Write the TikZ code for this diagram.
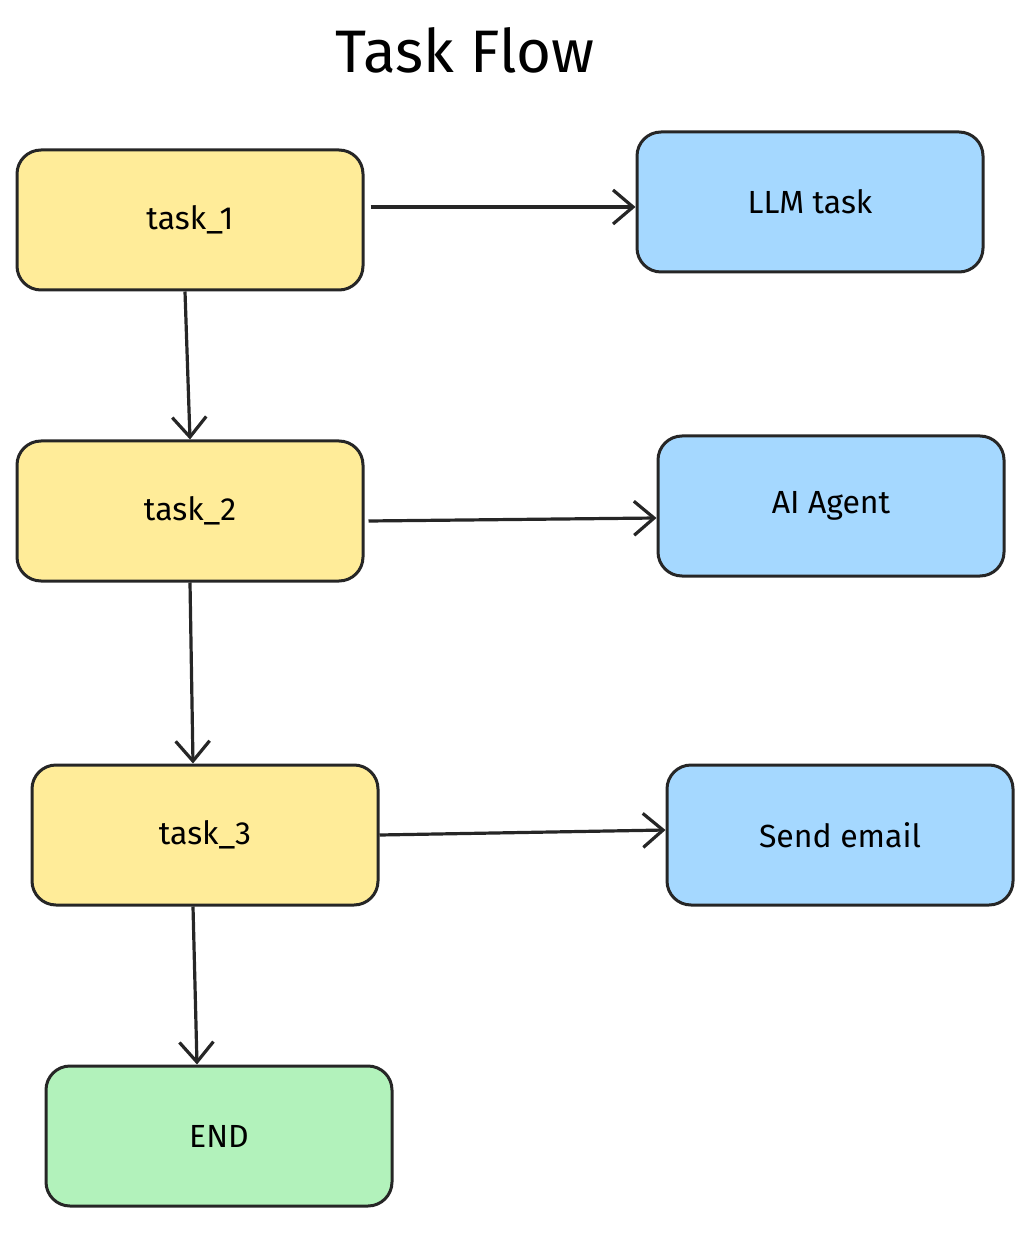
\documentclass[tikz,border=0pt]{standalone}
\usepackage{fontspec}
\setmainfont{Fira Sans}
\usetikzlibrary{arrows.meta}
\usetikzlibrary{positioning}
\definecolor{taskyellow}{HTML}{FFEC99}
\definecolor{toolblue}{HTML}{A5D8FF}
\definecolor{endgreen}{HTML}{B2F2BB}
\tikzset {
  flow node/.style = {
    draw = black!85,
    line width = 1.5pt,
    rounded corners = 12pt,
    minimum width = 173pt,
    minimum height = 70pt,
    font = \fontsize{16}{18}\selectfont
  },
  % task in the chain
  task/.style = {
    flow node,
    fill = taskyellow
  },
  % tool called by a task
  tool/.style = {
    flow node,
    fill = toolblue
  },
  % final node
  done/.style = {
    flow node,
    fill = endgreen
  },
  % connector style
  arr/.style = {
    draw = black!85,
    line width = 1.6pt,
    -{Straight Barb[length=10pt,width=17pt,line width=1.6pt]}
  }
}
\begin{document}
\begin{tikzpicture}[x=0.5pt, y=-0.5pt]
    \useasboundingbox (0,0) rectangle (1034,1234);

    \node[font = \fontsize{30}{34}\selectfont] (title) at (465,50) {Task Flow};

    \node[task] (task1) at (190,220) {task\_1};
    \node[task] (task2) at (190,511) {task\_2};
    \node[task] (task3) at (205,835) {task\_3};
    \node[done] (end) at (219,1136) {END};

    \node[tool] (llm) at (810,202) {LLM task};
    \node[tool] (agent) at (831,506) {AI Agent};
    \node[tool] (email) at (840,835) {Send email};

    \draw[arr] (task1.east) ++(6,-13) -- (llm.west |- 0,207);
    \draw[arr] (task2.east) ++(4,10) -- (agent.west |- 0,518);
    \draw[arr] (task3.east) -- (email.west |- 0,830);

    \draw[arr] (task1.south) ++(-5,0) -- (task2.north);
    \draw[arr] (task2.south) -- (task3.north -| 193,0);
    \draw[arr] (task3.south) ++(-12,0) -- (end.north -| 197,0);
  \end{tikzpicture}
\end{document}
